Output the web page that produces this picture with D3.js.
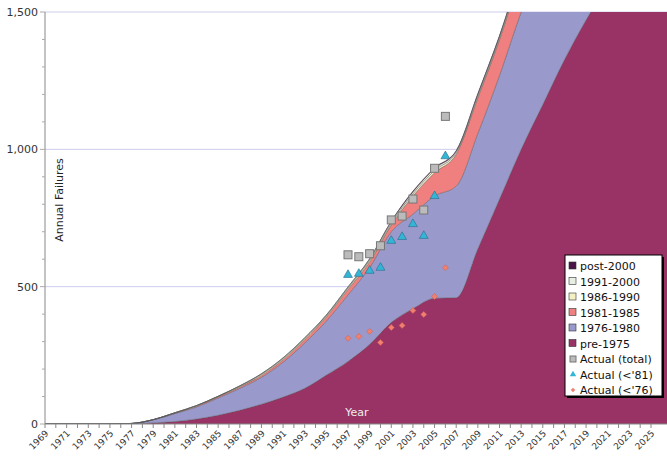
<!DOCTYPE html>
<html><head><meta charset="utf-8">
<script src="https://cdn.jsdelivr.net/npm/d3@7"></script>
<style>body{margin:0;background:#fff;font-family:Verdana,"DejaVu Sans",sans-serif;}</style>
</head><body><svg id="c" width="667" height="466"></svg>
<script>
// stacked estimates, one value per year
const years = [1969,1975,1977,1979,1981,1983,1985,1987,1989,1991,1993,1995,1997,1999,2001,2003,2005,2007,2009,2011,2013,2015,2017,2019,2021,2023,2025,2027];
const pre1975 = [0,0,1,4,9,18,32,50,72,98,130,178,228,290,370,420,458,460,638,819,1000,1163,1326,1471,1600,1720,1830,1930];
const s1976 = [0,0,1,11,29,44,63,80,98,127,165,197,242,280,330,344,372,406,420,450,500,537,524,530,500,480,470,460];
const s1981 = [0,0,0,1,2,3,4,5,7,9,12,15,20,20,25,66,85,116,130,130,140,150,150,150,150,150,150,150];
const s1986 = [0,0,0,0,1,2,2,3,4,4,4,4,5,6,6,8,8,6,6,6,6,6,6,6,6,6,6,6];
const s1991 = [0,0,0,0,0,0,0,1,2,3,3,3,4,5,6,7,7,5,6,6,6,6,6,6,6,6,6,6];
const s2000 = [0,0,0,0,0,0,0,0,0,0,0,0,0,1,2,3,3,3,4,4,4,4,4,4,4,4,4,4];

const actYears = [1997,1998,1999,2000,2001,2002,2003,2004,2005,2006];
const actTotal = [616,609,620,649,743,757,819,779,931,1120];
const act81 = [543,547,558,569,667,681,728,685,830,975];
const act76 = [312,319,337,297,351,359,413,399,464,569];

const tickYears = d3.range(1969, 2026, 2);
const yTicks = [0,500,1000,1500];

const series = [
  {name:"pre-1975", vals:pre1975, color:"#993366"},
  {name:"1976-1980", vals:s1976, color:"#9999cc"},
  {name:"1981-1985", vals:s1981, color:"#f08080"},
  {name:"1986-1990", vals:s1986, color:"#f4f0c4"},
  {name:"1991-2000", vals:s1991, color:"#e6efe2"},
  {name:"post-2000", vals:s2000, color:"#4b1446"}
];

const svg = d3.select("#c");
const x = d3.scaleLinear().domain([1969,2025]).range([45,651]);
const y = d3.scaleLinear().domain([0,1500]).range([424,12]);

// gridlines
svg.selectAll(".g").data([500,1000,1500]).enter().append("line")
  .attr("x1",45).attr("x2",667).attr("y1",d=>y(d)).attr("y2",d=>y(d))
  .attr("stroke","#ccccee").attr("stroke-width",1);

svg.append("clipPath").attr("id","clip").append("rect")
  .attr("x",45).attr("y",12).attr("width",622).attr("height",412);

const table = years.map((yr,i) => {
  let row = {year:yr};
  series.forEach(s => row[s.name] = s.vals[i]);
  return row;
});
const stack = d3.stack().keys(series.map(s=>s.name))(table);
const area = d3.area().curve(d3.curveMonotoneX)
  .x(d=>x(d.data.year)).y0(d=>y(d[0])).y1(d=>y(d[1]));

const g = svg.append("g").attr("clip-path","url(#clip)");
stack.forEach((layer,i) => {
  g.append("path").attr("d",area(layer)).attr("fill",series[i].color)
    .attr("stroke","#555").attr("stroke-width",0.4);
});

// axes
svg.append("line").attr("x1",45).attr("x2",45).attr("y1",12).attr("y2",424).attr("stroke","#888");
svg.append("line").attr("x1",45).attr("x2",667).attr("y1",424).attr("y2",424).attr("stroke","#888");
svg.selectAll(".yt").data(yTicks).enter().append("text")
  .attr("x",38).attr("y",d=>y(d)+4).attr("text-anchor","end")
  .attr("font-size",11).attr("fill","#333").text(d=>d3.format(",")(d));
svg.selectAll(".yk").data(d3.range(0,1501,100)).enter().append("line")
  .attr("x1",d=>d%500===0?40:42).attr("x2",45).attr("y1",d=>y(d)).attr("y2",d=>y(d)).attr("stroke","#aaa");
svg.selectAll(".xk").data(d3.range(1969,2026)).enter().append("line")
  .attr("x1",d=>x(d)).attr("x2",d=>x(d)).attr("y1",424).attr("y2",428).attr("stroke","#888");
svg.selectAll(".xt").data(tickYears).enter().append("text")
  .attr("transform",d=>`translate(${x(d)+4},${434}) rotate(-45)`)
  .attr("text-anchor","end").attr("font-size",9).attr("fill","#333").text(d=>d);

svg.append("text").attr("x",357).attr("y",416).attr("text-anchor","middle")
  .attr("font-size",11).attr("fill","#eee").text("Year");
svg.append("text").attr("transform","translate(63,200) rotate(-90)")
  .attr("text-anchor","middle").attr("font-size",11).attr("fill","#222").text("Annual Failures");

// actual points
const ag = svg.append("g");
actYears.forEach((yr,i) => {
  ag.append("rect").attr("x",x(yr)-4).attr("y",y(actTotal[i])-4).attr("width",8).attr("height",8)
    .attr("fill","#bbbbbb").attr("stroke","#777");
  ag.append("path").attr("d",d3.symbol(d3.symbolTriangle,34)())
    .attr("transform",`translate(${x(yr)},${y(act81[i])})`).attr("fill","#33b5d6").attr("stroke","#2a6a8a").attr("stroke-width",0.6);
  ag.append("path").attr("d",d3.symbol(d3.symbolSquare,18)())
    .attr("transform",`translate(${x(yr)},${y(act76[i])}) rotate(45)`).attr("fill","#f08070").attr("stroke","#d06050").attr("stroke-width",0.5);
});

// legend
const lg = svg.append("g").attr("transform","translate(565,255)");
lg.append("rect").attr("x",2).attr("y",2).attr("width",97).attr("height",141).attr("fill","#000");
lg.append("rect").attr("width",97).attr("height",141).attr("fill","#fff").attr("stroke","#000");
const legItems = series.slice().reverse().map(s=>({name:s.name,color:s.color,kind:"box"}))
  .concat([{name:"Actual (total)",kind:"sq"},{name:"Actual (<'81)",kind:"tri"},{name:"Actual (<'76)",kind:"dia"}]);
legItems.forEach((d,i) => {
  const yy = 11 + i*15.5;
  if (d.kind==="box") lg.append("rect").attr("x",4).attr("y",yy-4).attr("width",7).attr("height",7).attr("fill",d.color).attr("stroke","#333").attr("stroke-width",0.6);
  if (d.kind==="sq") lg.append("rect").attr("x",5).attr("y",yy-3).attr("width",6).attr("height",6).attr("fill","#bbb").attr("stroke","#777");
  if (d.kind==="tri") lg.append("path").attr("d",d3.symbol(d3.symbolTriangle,18)()).attr("transform",`translate(8,${yy})`).attr("fill","#33b5d6");
  if (d.kind==="dia") lg.append("path").attr("d",d3.symbol(d3.symbolSquare,10)()).attr("transform",`translate(8,${yy}) rotate(45)`).attr("fill","#f08070");
  lg.append("text").attr("x",15).attr("y",yy+4).attr("font-size",11).attr("fill","#111").text(d.name);
});
</script></body></html>
